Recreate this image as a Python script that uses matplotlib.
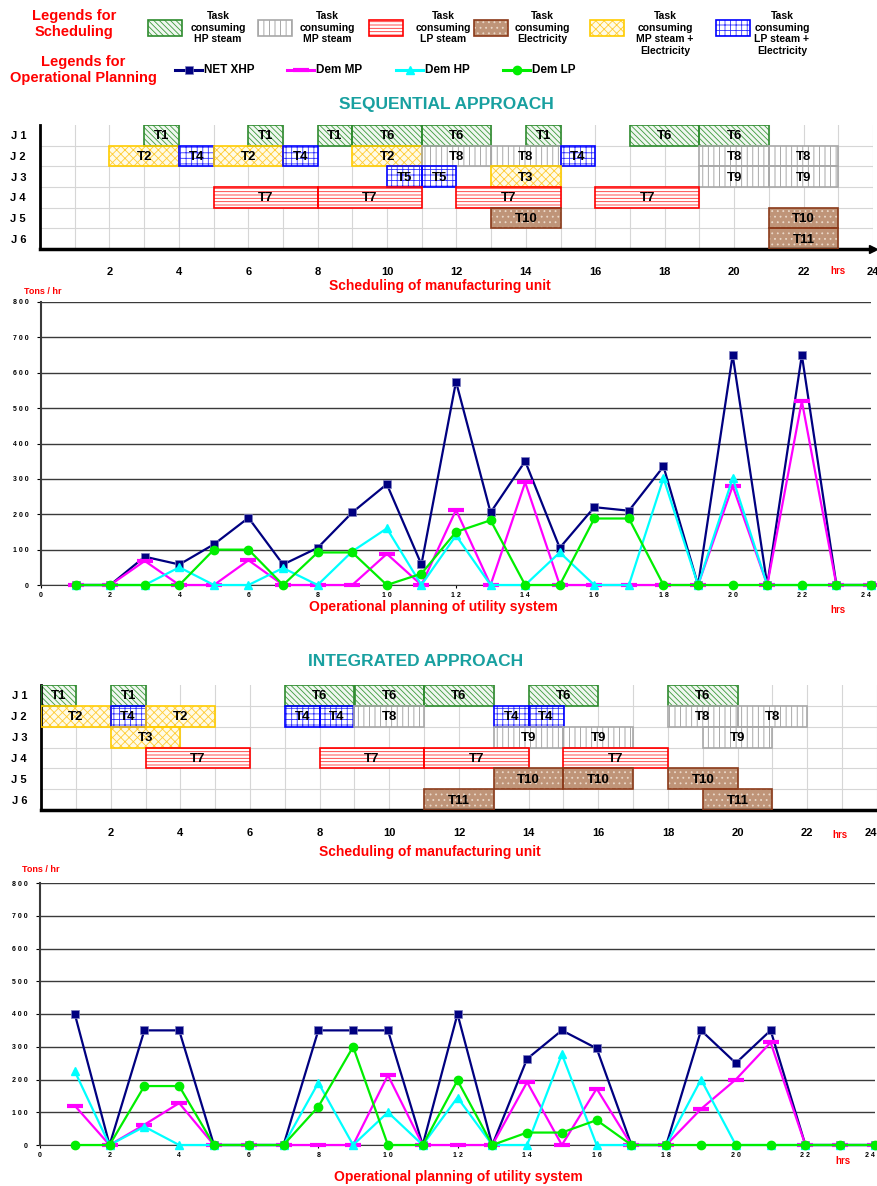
import matplotlib
matplotlib.use("Agg")
import matplotlib.pyplot as plt
from matplotlib.patches import Rectangle

W, H = 877, 1186

# utility demand (tons/hr) for hours 1..24
hours = list(range(1, 25))
seq_xhp = [0, 0, 80, 58, 115, 190, 58, 105, 205, 285, 58, 575, 205, 350, 105, 220, 210, 335, 0, 650, 0, 650, 0, 0]
seq_mp = [0, 0, 68, 0, 0, 70, 0, 0, 0, 88, 0, 212, 0, 290, 0, 0, 0, 0, 0, 280, 0, 520, 0, 0]
seq_hp = [0, 0, 0, 50, 0, 0, 48, 0, 95, 160, 0, 140, 0, 0, 92, 0, 0, 302, 0, 302, 0, 0, 0, 0]
seq_lp = [0, 0, 0, 0, 100, 100, 0, 92, 92, 0, 32, 150, 183, 0, 0, 188, 188, 0, 0, 0, 0, 0, 0, 0]

int_xhp = [400, 0, 350, 350, 0, 0, 0, 350, 350, 350, 0, 400, 0, 263, 350, 295, 0, 0, 350, 250, 350, 0, 0, 0]
int_mp = [120, 0, 62, 128, 0, 0, 0, 0, 0, 213, 0, 0, 0, 192, 0, 172, 0, 0, 110, 200, 313, 0, 0, 0]
int_hp = [225, 0, 56, 0, 0, 0, 0, 190, 0, 100, 0, 145, 0, 0, 277, 0, 0, 0, 200, 0, 0, 0, 0, 0]
int_lp = [0, 0, 180, 180, 0, 0, 0, 117, 300, 0, 0, 197, 0, 38, 38, 76, 0, 0, 0, 0, 0, 0, 0, 0]

# sequential schedule
seq_job = [1, 1, 1, 1, 1, 1, 1, 1,
           2, 2, 2, 2, 2, 2, 2, 2, 2, 2,
           3, 3, 3, 3, 3,
           4, 4, 4, 4,
           5, 5,
           6]
seq_start = [3, 6, 8, 9, 11, 14, 17, 19,
             2, 4, 5, 7, 9, 11, 13, 15, 19, 21,
             10, 11, 13, 19, 21,
             5, 8, 12, 16,
             13, 21,
             21]
seq_end = [4, 7, 9, 11, 13, 15, 19, 21,
           4, 5, 7, 8, 11, 13, 15, 16, 21, 23,
           11, 12, 15, 21, 23,
           8, 11, 15, 19,
           15, 23,
           23]
seq_task = ["T1", "T1", "T1", "T6", "T6", "T1", "T6", "T6",
            "T2", "T4", "T2", "T4", "T2", "T8", "T8", "T4", "T8", "T8",
            "T5", "T5", "T3", "T9", "T9",
            "T7", "T7", "T7", "T7",
            "T10", "T10",
            "T11"]
seq_kind = ["HP", "HP", "HP", "HP", "HP", "HP", "HP", "HP",
            "MPE", "LPE", "MPE", "LPE", "MPE", "MP", "MP", "LPE", "MP", "MP",
            "LPE", "LPE", "MPE", "MP", "MP",
            "LP", "LP", "LP", "LP",
            "E", "E",
            "E"]

# integrated schedule
int_job = [1, 1, 1, 1, 1, 1, 1,
           2, 2, 2, 2, 2, 2, 2, 2, 2, 2,
           3, 3, 3, 3,
           4, 4, 4, 4,
           5, 5, 5,
           6, 6]
int_start = [0, 2, 7, 9, 11, 14, 18,
             0, 2, 3, 7, 8, 9, 13, 14, 18, 20,
             2, 13, 15, 19,
             3, 8, 11, 15,
             13, 15, 18,
             11, 19]
int_end = [1, 3, 9, 11, 13, 16, 20,
           2, 3, 5, 8, 9, 11, 14, 15, 20, 22,
           4, 15, 17, 21,
           6, 11, 14, 18,
           15, 17, 20,
           13, 21]
int_task = ["T1", "T1", "T6", "T6", "T6", "T6", "T6",
            "T2", "T4", "T2", "T4", "T4", "T8", "T4", "T4", "T8", "T8",
            "T3", "T9", "T9", "T9",
            "T7", "T7", "T7", "T7",
            "T10", "T10", "T10",
            "T11", "T11"]
int_kind = ["HP", "HP", "HP", "HP", "HP", "HP", "HP",
            "MPE", "LPE", "MPE", "LPE", "LPE", "MP", "LPE", "LPE", "MP", "MP",
            "MPE", "MP", "MP", "MP",
            "LP", "LP", "LP", "LP",
            "E", "E", "E",
            "E", "E"]

legend_kinds = ["HP", "MP", "LP", "E", "MPE", "LPE"]
legend_text = ["Task\nconsuming\nHP steam", "Task\nconsuming\nMP steam",
               "Task\nconsuming\nLP steam", "Task\nconsuming\nElectricity",
               "Task\nconsuming\nMP steam +\nElectricity",
               "Task\nconsuming\nLP steam +\nElectricity"]
series_names = ["NET XHP", "Dem MP", "Dem HP", "Dem LP"]

plt.rcParams["font.family"] = ["Liberation Sans", "DejaVu Sans"]
plt.rcParams["font.weight"] = "bold"
plt.rcParams["hatch.linewidth"] = 0.6

# face, hatch colour, hatch, border
styles = {
    "HP": ("#f0f7f0", "#3c9a3c", "\\\\\\\\\\\\", "#2e8b2e"),
    "MP": ("white", "#9a9a9a", "|||", "#a8a8a8"),
    "LP": ("white", "#ff3030", "-----", "#ff0000"),
    "E": ("#bf9478", "#ead8c8", "...", "#8b3a1a"),
    "MPE": ("#fffbe6", "#ffcc33", "xxxx", "#ffcc00"),
    "LPE": ("white", "#3030ff", "+++", "#0000ff"),
}
line_styles = [
    dict(color="#000080", marker="s", ms=6, mec="#8080c0", mew=0.5),
    dict(color="#ff00ff", marker="_", ms=11, mew=3),
    dict(color="#00ffff", marker="^", ms=6),
    dict(color="#00ee00", marker="o", ms=6),
]
RED = "#ff0000"
TEAL = "#18a0a0"

fig = plt.figure(figsize=(W / 100, H / 100), dpi=100)


def box(left, top, right, bottom):
    return fig.add_axes([left / W, 1 - bottom / H, (right - left) / W, (bottom - top) / H])


def draw_gantt(ax, job, start, end, task, kind, arrow=False, last_right=False):
    for j, s, e, t, k in zip(job, start, end, task, kind):
        face, hcol, hatch, edge = styles[k]
        ax.barh(j, e - s, left=s, height=1, color=face, edgecolor=hcol,
                hatch=hatch, linewidth=0, zorder=2)
        ax.barh(j, e - s, left=s, height=1, facecolor="none", edgecolor=edge,
                linewidth=1.2, zorder=3)
        ax.text((s + e) / 2, j + 0.05, t, ha="center", va="center",
                fontsize=9.5, fontweight="bold", zorder=4)
    ax.set_xlim(0, 24)
    ax.set_ylim(6.5, 0.5)
    ax.set_yticks(range(1, 7))
    ax.set_yticklabels(["J %d" % i for i in range(1, 7)], fontsize=8)
    ax.set_yticks([1.5, 2.5, 3.5, 4.5, 5.5], minor=True)
    ax.set_xticks(range(2, 25, 2))
    labs = ax.set_xticklabels([str(i) for i in range(2, 25, 2)], fontsize=8)
    if last_right:
        labs[-1].set_ha("right")
    ax.set_xticks(range(0, 25), minor=True)
    ax.xaxis.grid(True, which="both", color="#d6d6d6", lw=0.8, zorder=0)
    ax.yaxis.grid(True, which="minor", color="#d6d6d6", lw=0.8, zorder=0)
    ax.tick_params(which="both", length=0)
    ax.tick_params(axis="x", pad=13)
    ax.tick_params(axis="y", pad=10)
    ax.set_axisbelow(True)
    for sp in ["top", "right"]:
        ax.spines[sp].set_visible(False)
    ax.spines["left"].set_linewidth(2)
    ax.spines["bottom"].set_linewidth(2.5)
    if arrow:
        ax.plot(1, 6.5, ">k", ms=6, transform=ax.get_yaxis_transform(), clip_on=False)


def draw_lines(ax, xhp, mp, hp, lp):
    for vals, st in zip([xhp, mp, hp, lp], line_styles):
        ax.plot(hours, vals, lw=1.6, clip_on=False, zorder=3, **st)
    ax.set_xlim(0, 24)
    ax.set_ylim(0, 800)
    ax.set_yticks(range(0, 801, 100))
    ax.set_yticklabels([" ".join(str(v)) for v in range(0, 801, 100)], fontsize=5)
    ax.set_xticks(range(0, 25, 2))
    labs = ax.set_xticklabels([" ".join(str(v)) for v in range(0, 25, 2)], fontsize=5)
    labs[-1].set_ha("right")
    ax.yaxis.grid(True, color="#3a3a3a", lw=1)
    ax.set_axisbelow(True)
    ax.tick_params(axis="y", length=3, width=0.8, pad=6)
    ax.tick_params(axis="x", length=2, width=0.8, pad=3)
    for sp in ["top", "right"]:
        ax.spines[sp].set_visible(False)
    ax.spines["left"].set_color("#3a3a3a")
    ax.spines["left"].set_linewidth(1.5)
    ax.spines["bottom"].set_color("#3a3a3a")


# sequential
g1 = box(40, 125, 873, 249)
draw_gantt(g1, seq_job, seq_start, seq_end, seq_task, seq_kind, arrow=True)
l1 = box(41, 302, 871, 585)
draw_lines(l1, seq_xhp, seq_mp, seq_hp, seq_lp)

# integrated
g2 = box(41, 685, 877, 810)
draw_gantt(g2, int_job, int_start, int_end, int_task, int_kind, last_right=True)
l2 = box(40, 883, 875, 1145)
draw_lines(l2, int_xhp, int_mp, int_hp, int_lp)

# overlay for legends and captions, in pixel coordinates
ov = fig.add_axes([0, 0, 1, 1], zorder=10)
ov.set_xlim(0, W)
ov.set_ylim(H, 0)
ov.axis("off")
ov.patch.set_alpha(0)

ov.text(74, 24, "Legends for\nScheduling", color=RED, fontsize=10.5, ha="center",
        va="center", linespacing=1.15)
ov.text(83, 70, "Legends for\nOperational Planning", color=RED, fontsize=10.5,
        ha="center", va="center", linespacing=1.15)

box_left = [148, 258, 369, 474, 590, 716]
text_cx = [218, 327, 443, 542, 665, 782]
for k, bl, tx, lab in zip(legend_kinds, box_left, text_cx, legend_text):
    face, hcol, hatch, edge = styles[k]
    ov.add_patch(Rectangle((bl, 20), 34, 16, facecolor=face, edgecolor=hcol,
                           hatch=hatch, linewidth=0))
    ov.add_patch(Rectangle((bl, 20), 34, 16, facecolor="none", edgecolor=edge,
                           linewidth=1.2))
    ov.text(tx, 11, lab, fontsize=7.5, ha="center", va="top", linespacing=1.2)

leg_x = [175, 287, 396, 503]
for name, lx, st in zip(series_names, leg_x, line_styles):
    ov.plot([lx, lx + 27], [70, 70], lw=2.2, color=st["color"])
    ov.plot([lx + 13.5], [70], ls="none", **st)
    ov.text(lx + 29, 70, name, fontsize=8.5, va="center", ha="left")

ov.text(446, 104, "SEQUENTIAL APPROACH", color=TEAL, fontsize=12.5, ha="center", va="center")
ov.text(416, 661, "INTEGRATED APPROACH", color=TEAL, fontsize=12.5, ha="center", va="center")

ov.text(440, 286, "Scheduling of manufacturing unit", color=RED, fontsize=10, ha="center", va="center")
ov.text(430, 852, "Scheduling of manufacturing unit", color=RED, fontsize=10, ha="center", va="center")
ov.text(433, 607, "Operational planning of utility system", color=RED, fontsize=10, ha="center", va="center")
ov.text(458, 1177, "Operational planning of utility system", color=RED, fontsize=10, ha="center", va="center")

ov.text(24, 291, "Tons / hr", color=RED, fontsize=6.5, ha="left", va="center")
ov.text(22, 870, "Tons / hr", color=RED, fontsize=6.5, ha="left", va="center")

for hx, hy in [(838, 271), (838, 610), (840, 835), (843, 1161)]:
    ov.text(hx, hy, "hrs", color=RED, fontsize=7, ha="center", va="center")

fig.savefig("out.png", dpi=100)
